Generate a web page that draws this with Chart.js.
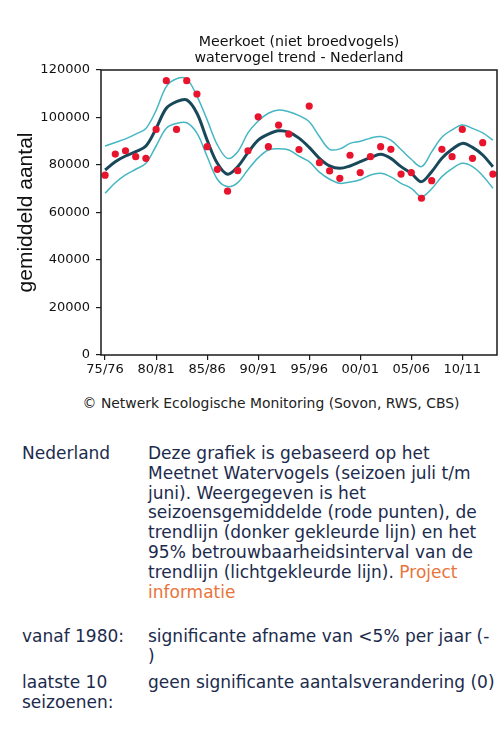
<!DOCTYPE html>
<html>
<head>
<meta charset="utf-8">
<script src="https://cdn.jsdelivr.net/npm/chart.js@4/dist/chart.umd.min.js"></script>
<style>
  html, body { margin: 0; padding: 0; background: #ffffff; }
  body { width: 504px; height: 729px; position: relative; overflow: hidden; font-family: "DejaVu Sans", Verdana, sans-serif; color: #1c2b4d; }
  #chart { position: absolute; left: 0; top: 0; }
  .credit { position: absolute; left: 0; top: 395px; width: 542px; text-align: center; font-size: 13.9px; color: #222; }
  .info { position: absolute; font-size: 17px; line-height: 19.8px; white-space: nowrap; }
  .link { color: #e8743b; }
</style>
</head>
<body>
<canvas id="chart" width="504" height="385"></canvas>
<div class="credit">© Netwerk Ecologische Monitoring (Sovon, RWS, CBS)</div>

<div class="info" style="left:22px; top:444px;">Nederland</div>
<div class="info" style="left:148px; top:444px;">Deze grafiek is gebaseerd op het<br>Meetnet Watervogels (seizoen juli t/m<br>juni). Weergegeven is het<br>seizoensgemiddelde (rode punten), de<br>trendlijn (donker gekleurde lijn) en het<br>95% betrouwbaarheidsinterval van de<br>trendlijn (lichtgekleurde lijn). <span class="link">Project<br>informatie</span></div>

<div class="info" style="left:22px; top:627px;">vanaf 1980:</div>
<div class="info" style="left:148px; top:627px;">significante afname van &lt;5% per jaar (-<br>)</div>

<div class="info" style="left:22px; top:673px;">laatste 10<br>seizoenen:</div>
<div class="info" style="left:148px; top:673px;">geen significante aantalsverandering (0)</div>

<script>
// seasons 75/76 .. 13/14
var seasons = ['75/76', '76/77', '77/78', '78/79', '79/80', '80/81', '81/82', '82/83', '83/84', '84/85',
  '85/86', '86/87', '87/88', '88/89', '89/90', '90/91', '91/92', '92/93', '93/94', '94/95',
  '95/96', '96/97', '97/98', '98/99', '99/00', '00/01', '01/02', '02/03', '03/04', '04/05',
  '05/06', '06/07', '07/08', '08/09', '09/10', '10/11', '11/12', '12/13', '13/14'];

// seizoensgemiddelde (rode punten)
var counts = [75700, 84600, 86000, 83500, 82800, 95000, 115500, 95000, 115500, 109900,
  87700, 78200, 69000, 77600, 86000, 100300, 87700, 96800, 93000, 86500,
  104800, 81000, 77500, 74400, 84100, 76800, 83500, 87700, 86600, 76200,
  76800, 66000, 73400, 86600, 83500, 95000, 82800, 89400, 76200];

// trendlijn
var trend = [77900, 81400, 83800, 85600, 88000, 95400, 103900, 106700, 107400, 101800,
  90500, 80700, 76100, 79300, 85200, 90500, 93000, 94400, 93800, 91300,
  87400, 82800, 79600, 78600, 79600, 81400, 83100, 84500, 82800, 79300,
  76500, 73000, 77200, 82800, 86600, 89100, 87400, 84200, 79300];

// 95% betrouwbaarheidsinterval
var upper = [88000, 89500, 91000, 93000, 95400, 103000, 113000, 116300, 116200, 109000,
  99000, 88500, 82800, 85600, 93500, 98500, 101800, 103200, 102400, 100800,
  98200, 92000, 86600, 86800, 89100, 90000, 91300, 92000, 90500, 86500,
  82400, 79300, 85500, 91700, 94800, 96800, 95400, 93500, 90500];
var lower = [68100, 72500, 75800, 78200, 80700, 88000, 95500, 97500, 97800, 93400,
  83600, 74000, 70900, 72600, 78000, 83000, 86300, 86800, 86300, 83700,
  81400, 77000, 74000, 72300, 72800, 73800, 75800, 76500, 75000, 72300,
  70200, 66700, 70000, 75100, 78500, 80700, 79300, 75500, 70200];

var labelTicks = [0, 5, 10, 15, 20, 25, 30, 35];
var yTicks = [0, 20000, 40000, 60000, 80000, 100000, 120000];

function toPoints(arr) {
  return arr.map(function(v, i) { return { x: i, y: v }; });
}

// box around the plot area
var frame = {
  id: 'frame',
  afterDraw: function(chart) {
    var a = chart.chartArea, ctx = chart.ctx;
    ctx.save();
    ctx.strokeStyle = '#1a1a1a';
    ctx.lineWidth = 1.5;
    ctx.strokeRect(a.left, a.top, a.right - a.left, a.bottom - a.top);
    ctx.restore();
  }
};

var tickFont = { family: 'DejaVu Sans', size: 13 };

new Chart(document.getElementById('chart'), {
  type: 'line',
  data: {
    datasets: [
      {
        label: 'seizoensgemiddelde',
        data: toPoints(counts),
        showLine: false,
        pointRadius: 3.6,
        pointBackgroundColor: '#e8132c',
        pointBorderWidth: 0
      },
      {
        label: 'trend',
        data: toPoints(trend),
        borderColor: '#18485a',
        borderWidth: 3,
        tension: 0.35,
        pointRadius: 0
      },
      {
        label: 'bovengrens',
        data: toPoints(upper),
        borderColor: '#45b7c3',
        borderWidth: 1.5,
        tension: 0.35,
        pointRadius: 0
      },
      {
        label: 'ondergrens',
        data: toPoints(lower),
        borderColor: '#45b7c3',
        borderWidth: 1.5,
        tension: 0.35,
        pointRadius: 0
      }
    ]
  },
  options: {
    responsive: false,
    animation: false,
    devicePixelRatio: 1,
    layout: { padding: { top: 0, right: 7, bottom: 0, left: 0 } },
    plugins: {
      legend: { display: false },
      tooltip: { enabled: false },
      title: {
        display: true,
        fullSize: false,
        text: ['Meerkoet (niet broedvogels)', 'watervogel trend - Nederland'],
        color: '#111',
        font: { family: 'DejaVu Sans', size: 14.2, weight: 'normal', lineHeight: '16px' },
        padding: { top: 34, bottom: 4 }
      }
    },
    scales: {
      x: {
        type: 'linear',
        min: -0.4,
        max: 38.4,
        afterFit: function(scale) { scale.height = 30; },
        afterBuildTicks: function(scale) {
          scale.ticks = labelTicks.map(function(v) { return { value: v }; });
        },
        ticks: {
          color: '#111',
          font: tickFont,
          padding: 2,
          maxRotation: 0,
          autoSkip: false,
          callback: function(value) { return seasons[value]; }
        },
        grid: { drawOnChartArea: false, drawTicks: true, tickLength: 5, color: '#1a1a1a', lineWidth: 1.2 },
        border: { display: false }
      },
      y: {
        min: 0,
        max: 120000,
        afterFit: function(scale) { scale.width = 101; },
        afterBuildTicks: function(scale) {
          scale.ticks = yTicks.map(function(v) { return { value: v }; });
        },
        ticks: {
          color: '#111',
          font: tickFont,
          padding: 6,
          callback: function(value) { return String(value); }
        },
        grid: { drawOnChartArea: false, drawTicks: true, tickLength: 5, color: '#1a1a1a', lineWidth: 1.2 },
        border: { display: false },
        title: {
          display: true,
          text: 'gemiddeld aantal',
          color: '#111',
          font: { family: 'Liberation Sans', size: 21 },
          padding: { top: 14, bottom: 0 }
        }
      }
    }
  },
  plugins: [frame]
});
</script>
</body>
</html>
